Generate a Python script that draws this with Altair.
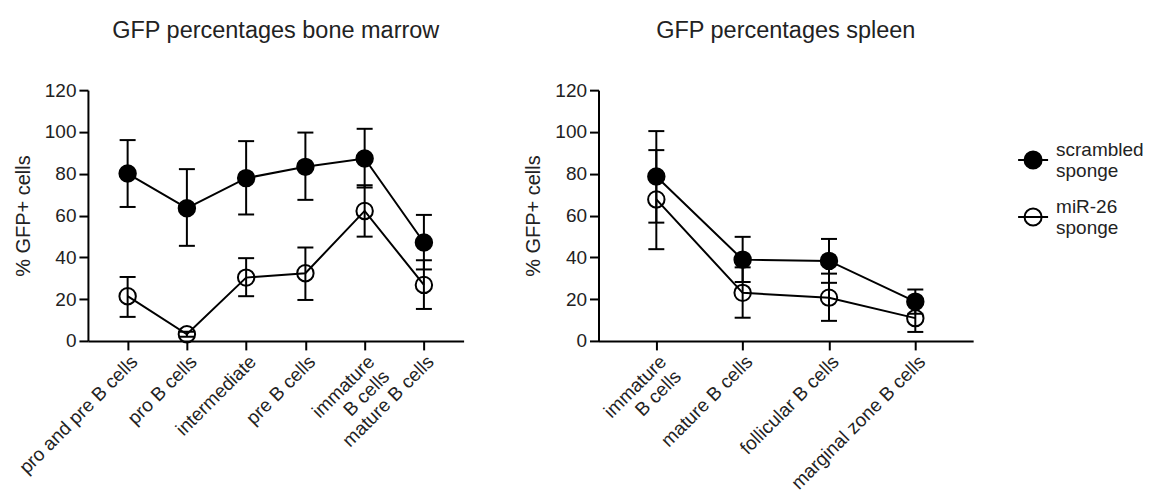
import altair as alt
import pandas as pd

# ---- data ----
series_names = ["scrambled sponge", "miR-26 sponge"]

cells_bm = ["pro and pre B cells", "pro B cells", "intermediate", "pre B cells",
            "immature|B cells", "mature B cells"]
scr_bm_mean = [80.1, 63.5, 77.9, 83.3, 87.3, 47.1]
scr_bm_lo = [64.1, 45.5, 60.5, 67.5, 73.4, 34.2]
scr_bm_hi = [96.1, 82.2, 95.6, 99.7, 101.5, 60.3]
mir_bm_mean = [21.4, 3.2, 30.3, 32.4, 62.2, 26.8]
mir_bm_lo = [11.5, 2.0, 21.4, 19.6, 49.9, 15.3]
mir_bm_hi = [30.6, 4.4, 39.6, 44.7, 74.5, 38.6]

cells_sp = ["immature|B cells", "mature B cells", "follicular B cells", "marginal zone B cells"]
scr_sp_mean = [78.7, 38.9, 38.3, 18.8]
scr_sp_lo = [56.6, 28.2, 27.8, 13.0]
scr_sp_hi = [100.4, 49.8, 48.8, 24.6]
mir_sp_mean = [67.7, 23.0, 20.7, 10.9]
mir_sp_lo = [43.9, 11.1, 9.6, 4.3]
mir_sp_hi = [91.3, 35.2, 32.2, 17.5]

y_ticks = [0, 20, 40, 60, 80, 100, 120]

FONT = "Liberation Sans"
TXT = "#222222"


def make_df(cells, groups):
    rows = []
    for name, (mean, lo, hi) in zip(series_names, groups):
        for i, c in enumerate(cells):
            rows.append({"cell": c, "idx": i, "series": name,
                         "mean": mean[i], "lo": lo[i], "hi": hi[i]})
    return pd.DataFrame(rows)


def panel(df, cells, title, width):
    x = alt.X("cell:N", sort=cells,
              scale=alt.Scale(type="point", padding=0.67),
              axis=alt.Axis(title=None, labelAngle=-45,
                            labelExpr="split(datum.label, '|')",
                            labelPadding=2, labelLimit=400))
    yscale = alt.Scale(domain=[0, 120], nice=False, zero=True)
    yaxis = alt.Axis(title="% GFP+ cells", values=y_ticks, titlePadding=11,
                     labelPadding=3)
    base = alt.Chart(df)
    rule = base.mark_rule(color="black", strokeWidth=2).encode(
        x=x, y=alt.Y("lo:Q", scale=yscale, axis=yaxis), y2="hi:Q")
    cap_lo = base.mark_tick(color="black", thickness=2, size=16, opacity=1).encode(
        x=x, y=alt.Y("lo:Q", scale=yscale))
    cap_hi = base.mark_tick(color="black", thickness=2, size=16, opacity=1).encode(
        x=x, y=alt.Y("hi:Q", scale=yscale))
    line = base.mark_line(color="black", strokeWidth=2).encode(
        x=x, y=alt.Y("mean:Q", scale=yscale), detail="series:N",
        order=alt.Order("idx:Q"))
    pts = base.mark_point(filled=True, size=270, stroke="black", strokeWidth=2,
                          opacity=1).encode(
        x=x, y=alt.Y("mean:Q", scale=yscale),
        fill=alt.Fill("series:N",
                      scale=alt.Scale(domain=series_names,
                                      range=["#000000", "rgba(255,255,255,0)"]),
                      legend=alt.Legend(
                          title=" ", titleFontSize=10, titlePadding=44,
                          symbolType="M-1,0H1M-0.57,0A0.57,0.57 0 1,0 0.57,0A0.57,0.57 0 1,0 -0.57,0Z",
                          symbolSize=900, symbolStrokeWidth=2,
                          symbolStrokeColor="black",
                          labelFontSize=19, labelFont=FONT, labelColor=TXT,
                          labelExpr="split(datum.label, ' ')",
                          labelBaseline="bottom",
                          rowPadding=17, labelOffset=7,
                          orient="right", offset=44, padding=0)))
    return alt.layer(rule, cap_lo, cap_hi, line, pts).properties(
        width=width, height=251,
        title=alt.TitleParams(title, fontSize=23.5, fontWeight="normal",
                              font=FONT, color=TXT, offset=39))


df_bm = make_df(cells_bm, [(scr_bm_mean, scr_bm_lo, scr_bm_hi),
                           (mir_bm_mean, mir_bm_lo, mir_bm_hi)])
df_sp = make_df(cells_sp, [(scr_sp_mean, scr_sp_lo, scr_sp_hi),
                           (mir_sp_mean, mir_sp_lo, mir_sp_hi)])

chart = alt.hconcat(
    panel(df_bm, cells_bm, "GFP percentages bone marrow", 376),
    panel(df_sp, cells_sp, "GFP percentages spleen", 375),
    spacing=60,
).properties(
    padding={"left": 5, "top": 10, "right": 0, "bottom": 0}
).configure_view(stroke=None).configure_axis(
    grid=False, domainColor="black", domainWidth=2, tickColor="black",
    tickWidth=2, tickSize=9, labelFont=FONT, labelFontSize=19,
    labelColor=TXT, titleFont=FONT, titleFontSize=20,
    titleFontWeight="normal", titleColor=TXT,
)

chart.save("out.html", embed_options={"renderer": "svg", "actions": False})
